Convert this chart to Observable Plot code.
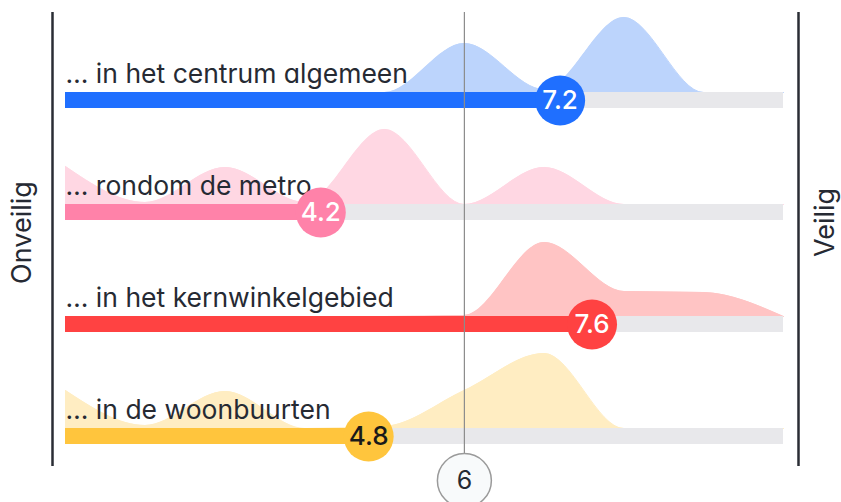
<!DOCTYPE html>
<html>
<head>
<meta charset="utf-8">
<script src="https://cdn.jsdelivr.net/npm/d3@7"></script>
<script src="https://cdn.jsdelivr.net/npm/@observablehq/plot@0.6"></script>
<style>
  html, body { margin: 0; padding: 0; background: #fff; }
  #chart svg { display: block; }
  #chart svg text { font-feature-settings: "cv11" 1; }
</style>
</head>
<body>
<div id="chart"></div>
<script>
// ---- data ----
const labels = ["… in het centrum algemeen", "… rondom de metro", "… in het kernwinkelgebied", "… in de woonbuurten"];
const scores = [7.2, 4.2, 7.6, 4.8];
const scalePoints = [1, 2, 3, 4, 5, 6, 7, 8, 9, 10];
const densCentrum = [0, 0, 0, 0, 0, 49, 3, 75, 0, 0];
const densMetro   = [38, 2, 37, 2, 75, 0, 37, 0, 0, 0];
const densKern    = [0, 0, 0, 0, 0, 1, 74, 25, 24, 0];
const densWoon    = [38, 3, 37, 0, 2, 38, 75, 0, 0, 0];
const reference = 6;
const sideLabels = ["Onveilig", "Veilig"];

// ---- styles ----
const barColors = ["#1f6fff", "#ff82a9", "#ff4242", "#ffc53d"];
const areaColors = ["#bcd4fc", "#ffd7e3", "#ffc4c4", "#ffedc2"];
const valueTextColors = ["#ffffff", "#ffffff", "#ffffff", "#1a1a1a"];
const ROW = 112;

const densities = [densCentrum, densMetro, densKern, densWoon];
const rows = labels.map((label, i) => ({
  label, score: scores[i], base: (labels.length - 1 - i) * ROW,
  bar: barColors[i], area: areaColors[i], txt: valueTextColors[i]
}));
const dens = rows.flatMap((r, i) => scalePoints.map((s, j) => ({
  row: r.label, s, base: r.base, top: r.base + densities[i][j], area: r.area
})));

const chart = Plot.plot({
  width: 841,
  height: 502,
  marginLeft: 65,
  marginRight: 58,
  marginTop: 0,
  marginBottom: 0,
  x: {domain: [1, 10], axis: null},
  y: {domain: [-74, 428], axis: null},
  color: {type: "identity"},
  style: {fontFamily: "Inter, 'Open Sans', sans-serif", background: "#fff"},
  marks: [
    Plot.areaY(dens, {x: "s", y1: "base", y2: "top", z: "row", fill: "area", curve: "monotone-x"}),
    Plot.lineY(dens, {x: "s", y: "top", z: "row", stroke: "area", strokeWidth: 1, curve: "monotone-x"}),
    Plot.rect(rows, {x1: 1, x2: 10, y1: d => d.base, y2: d => d.base - 16, fill: "#e8e8eb"}),
    Plot.rect(rows, {x1: 1, x2: "score", y1: d => d.base, y2: d => d.base - 16, fill: "bar"}),
    Plot.ruleX([reference], {y1: -27, y2: 416, stroke: "#8c8c8c", strokeWidth: 1.2}),
    Plot.ruleX([1], {dx: -13, y1: -38, y2: 416, stroke: "#2a2d34", strokeWidth: 2.5}),
    Plot.ruleX([10], {dx: 15, y1: -38, y2: 416, stroke: "#2a2d34", strokeWidth: 2.5}),
    Plot.text(rows, {x: 1, y: d => d.base + 18, text: "label", textAnchor: "start", lineAnchor: "middle", fontSize: 26.5, fill: "#262a33"}),
    Plot.dot(rows, {x: "score", y: d => d.base - 8, r: 25, fill: "bar", stroke: null}),
    Plot.text(rows, {x: "score", y: d => d.base - 8, text: d => d.score.toFixed(1), fill: "txt", fontSize: 26, fontWeight: 500, lineAnchor: "middle", style: "letter-spacing:-1.5px"}),
    Plot.dot([reference], {x: d => d, y: -52, r: 27, fill: "#f8fafb", stroke: "#9a9a9a", strokeWidth: 1.5}),
    Plot.text([reference], {x: d => d, y: -52, text: d => String(d), fontSize: 25, fill: "#262a33", lineAnchor: "middle"}),
    Plot.text([sideLabels[0]], {x: 1, dx: -43, y: 196, text: d => d, rotate: -90, fontSize: 27, fill: "#262a33", lineAnchor: "middle"}),
    Plot.text([sideLabels[1]], {x: 10, dx: 42, y: 206, text: d => d, rotate: -90, fontSize: 27, fill: "#262a33", lineAnchor: "middle"})
  ]
});
document.getElementById("chart").appendChild(chart);
</script>
</body>
</html>
